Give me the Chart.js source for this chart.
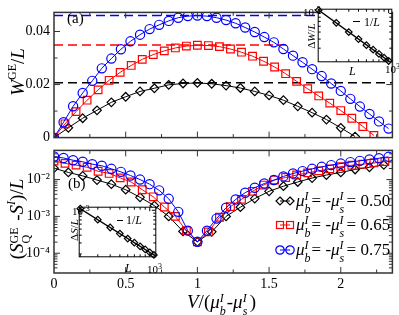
<!DOCTYPE html>
<html><head><meta charset="utf-8">
<script src="https://cdn.jsdelivr.net/npm/chart.js@4.4.0/dist/chart.umd.min.js"></script>
<style>
body{margin:0;background:#fff}
#wrap{position:relative;width:399px;height:315px;overflow:hidden;font-family:'Liberation Serif',serif;color:#000;background:#fff}
canvas{position:absolute}
.t{position:absolute;white-space:nowrap;line-height:1}
.ss{position:relative;display:inline-block;height:0}
.ss .up{position:absolute;left:0;line-height:1}
.ss .dn{position:absolute;left:0;line-height:1}
.sup{position:relative;line-height:1}
</style></head><body>
<div id="wrap">
<canvas id="cTop" width="399" height="150" style="left:0;top:0"></canvas>
<canvas id="cBot" width="399" height="177" style="left:0;top:138px"></canvas>
<canvas id="cIn1" width="84" height="63" style="left:313px;top:4px"></canvas>
<canvas id="cIn2" width="87" height="60" style="left:74px;top:202px"></canvas>

<div class="t" style="left:67px;top:11px;font-size:15px">(a)</div>
<div class="t" style="left:68px;top:176px;font-size:15px">(b)</div>

<div class="t" style="left:17px;top:72px;font-size:19px;transform:translate(-50%,-50%) rotate(-90deg)"><i>W</i><span class="sup" style="font-size:12px;top:-8px">GE</span>/<i>L</i></div>
<div class="t" style="left:16px;top:219px;font-size:19px;transform:translate(-50%,-50%) rotate(-90deg)">(<i>S</i><span class="ss" style="width:18px"><span class="up" style="font-size:12px;top:-15px">GE</span><span class="dn" style="font-size:12px;top:-3px">Q</span></span> -<i>S</i><span class="sup" style="font-size:12px;top:-8px"><i>I</i></span>)/<i>L</i></div>

<div class="t" style="left:187px;top:292px;font-size:19px"><i>V</i>/(<i>μ</i><span class="ss" style="width:7px"><span class="up" style="font-size:12px;top:-16px"><i>I</i></span><span class="dn" style="font-size:12px;top:-3px"><i>b</i></span></span>-<i>μ</i><span class="ss" style="width:7px"><span class="up" style="font-size:12px;top:-16px"><i>I</i></span><span class="dn" style="font-size:12px;top:-3px"><i>s</i></span></span>)</div>

<!-- legend symbols -->
<svg style="position:absolute;left:274px;top:194px" width="22" height="14"><line x1="6" y1="7" x2="16" y2="7" stroke="#000" stroke-width="1"/><path d="M6 3 L10 7 L6 11 L2 7 Z" fill="none" stroke="#000" stroke-width="1.2"/><path d="M16 3 L20 7 L16 11 L12 7 Z" fill="none" stroke="#000" stroke-width="1.2"/></svg>
<svg style="position:absolute;left:274px;top:218px" width="22" height="14"><line x1="6" y1="7" x2="16" y2="7" stroke="#f00" stroke-width="1"/><rect x="2.5" y="3.5" width="7" height="7" fill="none" stroke="#f00" stroke-width="1.2"/><rect x="12.5" y="3.5" width="7" height="7" fill="none" stroke="#f00" stroke-width="1.2"/></svg>
<svg style="position:absolute;left:274px;top:243px" width="22" height="14"><line x1="6" y1="7" x2="16" y2="7" stroke="#00f" stroke-width="1"/><circle cx="6" cy="7" r="4.2" fill="none" stroke="#00f" stroke-width="1.2"/><circle cx="16" cy="7" r="4.2" fill="none" stroke="#00f" stroke-width="1.2"/></svg>
<div id="leg"></div>

<!-- inset labels -->
<div class="t" style="left:303px;top:7px;font-size:11px">10<span class="sup" style="font-size:8px;top:-4px">-3</span></div>
<div class="t" style="left:311px;top:36px;font-size:11px;transform:translate(-50%,-50%) rotate(-90deg)">Δ<i>W</i>/<i>L</i></div>
<div style="position:absolute;left:353px;top:21px;width:7px;border-top:1.5px solid #000"></div>
<div class="t" style="left:364px;top:16px;font-size:12px">1/<i>L</i></div>
<div class="t" style="left:349px;top:65px;font-size:12px"><i>L</i></div>
<div class="t" style="left:385px;top:64px;font-size:11px">10<span class="sup" style="font-size:8px;top:-4px">3</span></div>

<div class="t" style="left:72px;top:206px;font-size:11px">10<span class="sup" style="font-size:8px;top:-4px">-3</span></div>
<div class="t" style="left:74px;top:230px;font-size:11px;transform:translate(-50%,-50%) rotate(-90deg)">Δ<i>S</i>/<i>L</i></div>
<div style="position:absolute;left:117px;top:220px;width:6px;border-top:1.5px solid #000"></div>
<div class="t" style="left:126px;top:214px;font-size:12px">1/<i>L</i></div>
<div class="t" style="left:125px;top:262px;font-size:12px"><i>L</i></div>
<div class="t" style="left:147px;top:264px;font-size:11px">10<span class="sup" style="font-size:8px;top:-4px">3</span></div>
</div>

<script>
// ---------- data ----------
const XMAX = 2.36;
const xBlack = [0,0.1,0.2,0.3,0.4,0.5,0.6,0.7,0.8,0.9,1.0,1.1,1.2,1.3,1.4,1.5,1.6,1.7,1.8,1.9,2.0,2.1,2.2,2.3];
const xRed = [0,0.0769,0.1538,0.2308,0.3077,0.3846,0.4615,0.5385,0.6154,0.6923,0.7692,0.8462,0.9231,1.0,1.0769,1.1538,1.2308,1.3077,1.3846,1.4615,1.5385,1.6154,1.6923,1.7692,1.8462,1.9231,2.0,2.0769,2.1538,2.2308,2.3077];
const xBlue = [0,0.0667,0.1333,0.2,0.2667,0.3333,0.4,0.4667,0.5333,0.6,0.6667,0.7333,0.8,0.8667,0.9333,1.0,1.0667,1.1333,1.2,1.2667,1.3333,1.4,1.4667,1.5333,1.6,1.6667,1.7333,1.8,1.8667,1.9333,2.0,2.0667,2.1333,2.2,2.2667,2.3333];

// panel (a): W^GE/L
const wBlack = [0,0.0037,0.0073,0.0103,0.0133,0.0154,0.0174,0.0186,0.0199,0.0204,0.0206,0.0203,0.0196,0.0187,0.0174,0.0159,0.0141,0.0118,0.0094,0.0068,0.0037,0.0004];
const wRed = [0,0.0052,0.0098,0.0141,0.0180,0.0216,0.0246,0.0272,0.0295,0.0313,0.0327,0.0338,0.0345,0.0348,0.0347,0.0343,0.0334,0.0322,0.0307,0.0288,0.0266,0.0241,0.0212,0.0184,0.0157,0.0130,0.0102,0.0073,0.0042,0.0008];
const wBlue = [0,0.0058,0.0118,0.0168,0.0214,0.0261,0.0298,0.0333,0.0363,0.0388,0.0409,0.0425,0.0440,0.0452,0.0458,0.0460,0.0458,0.0452,0.0443,0.0431,0.0415,0.0398,0.0379,0.0359,0.0334,0.0309,0.0284,0.0258,0.0232,0.0204,0.0176,0.0146,0.0117,0.0089,0.0061,0.0034];
const gsLevels = [0.0207, 0.0349, 0.0460];
const gsEnds = [2.36, 1.62, 2.36];

// panel (b): (S_Q^GE - S^I)/L
const sBlack = [0.0204,0.0156,0.0126,0.0097,0.0075,0.0053,0.0033,0.00196,0.0010,0.00039,0.000204,0.00038,0.0010,0.00178,0.00305,0.0048,0.0066,0.0086,0.0110,0.0133,0.0156,0.0188,0.0216,0.0251];
const sRed = [0.0320,0.0275,0.0247,0.0216,0.0168,0.0147,0.0111,0.0086,0.0053,0.0034,0.0018,0.0010,0.00041,0.000204,0.00038,0.00095,0.00185,0.0029,0.0048,0.0071,0.0097,0.0114,0.0133,0.0152,0.0172,0.0195,0.0225,0.0245,0.0262,0.0283,0.0308];
const sBlue = [0.0422,0.0385,0.0335,0.0305,0.0262,0.0237,0.0196,0.0162,0.0129,0.0100,0.0075,0.0051,0.0030,0.00133,0.00041,0.000204,0.00041,0.00087,0.00172,0.00288,0.0044,0.0060,0.0078,0.0097,0.0122,0.0146,0.0170,0.0196,0.0222,0.0247,0.0272,0.0298,0.0323,0.0350,0.0380,0.0415];

const topYTicks = [0, 0.02, 0.04];
const topYMinor = [0.01, 0.03];
const xTicks = [0, 0.5, 1, 1.5, 2];
const xMinor = [0.25, 0.75, 1.25, 1.75, 2.25];
const botYTicks = [1e-4, 1e-3, 1e-2];

// insets
const insetL1 = [200,300,400,500,600,700,800,900,1000];
const dWL = [1.0e-3,6.7e-4,5.0e-4,4.0e-4,3.3e-4,2.86e-4,2.5e-4,2.22e-4,2.0e-4];
const fitL1 = [198, 1075];
const fitW = [1.01e-3, 1.86e-4];
const insetL2 = [200,300,400,500,600,700,800,900,1000,1100];
const dSL = [1.06e-3,7.07e-4,5.3e-4,4.24e-4,3.53e-4,3.03e-4,2.65e-4,2.36e-4,2.12e-4,1.93e-4];
const fitL2 = [195, 1150];
const fitS = [1.087e-3, 1.84e-4];

const legendLabels = ['0.50', '0.65', '0.75'];

// ---------- helpers ----------
const pts = (xs, ys) => ys.map((y, i) => ({x: xs[i], y}));
const SUP = {'-':'\u207B','0':'\u2070','1':'\u00B9','2':'\u00B2','3':'\u00B3','4':'\u2074','5':'\u2075','6':'\u2076','7':'\u2077','8':'\u2078','9':'\u2079'};
const logLabel = v => '10' + String(Math.round(Math.log10(v))).split('').map(c => SUP[c]).join('');
const FONT = {family: "'Liberation Serif', serif", size: 14};

function logMinor(min, max) {
  const out = [];
  for (let d = Math.floor(Math.log10(min)); d <= Math.ceil(Math.log10(max)); d++) {
    for (let k = 2; k <= 9; k++) { const v = k * Math.pow(10, d); if (v > min && v < max) out.push(v); }
  }
  return out;
}
function logMajor(min, max) {
  const out = [];
  for (let d = Math.floor(Math.log10(min)); d <= Math.ceil(Math.log10(max)); d++) { const v = Math.pow(10, d); if (v >= min && v <= max) out.push(v); }
  return out;
}

const frameTicks = {
  id: 'frameTicks',
  beforeDraw(chart, args, o) {
    if (!o || !o.on || !o.bg) return;
    const {ctx, chartArea: a} = chart;
    ctx.save(); ctx.fillStyle = '#fff'; ctx.fillRect(a.left, a.top, a.right - a.left, a.bottom - a.top); ctx.restore();
  },
  afterDatasetsDraw(chart, args, o) {
    if (!o || !o.on) return;
    const {ctx, chartArea: a, scales} = chart;
    const xs = scales.x, ys = scales.y;
    ctx.save();
    ctx.strokeStyle = o.color; ctx.lineWidth = o.tickWidth;
    ctx.beginPath();
    const tx = (v, len) => { const p = xs.getPixelForValue(v); if (p < a.left + 1 || p > a.right - 1) return;
      ctx.moveTo(p, a.bottom); ctx.lineTo(p, a.bottom - len); ctx.moveTo(p, a.top); ctx.lineTo(p, a.top + len); };
    const ty = (v, len) => { const p = ys.getPixelForValue(v); if (p < a.top + 1 || p > a.bottom - 1) return;
      ctx.moveTo(a.left, p); ctx.lineTo(a.left + len, p); ctx.moveTo(a.right, p); ctx.lineTo(a.right - len, p); };
    const xMaj = o.xLog ? logMajor(xs.min, xs.max) : (o.xMajor || []);
    const xMin = o.xLog ? logMinor(xs.min, xs.max) : (o.xMinor || []);
    const yMaj = o.yLog ? logMajor(ys.min, ys.max) : (o.yMajor || []);
    const yMin = o.yLog ? logMinor(ys.min, ys.max) : (o.yMinor || []);
    xMaj.forEach(v => tx(v, o.majLen)); xMin.forEach(v => tx(v, o.minLen));
    yMaj.forEach(v => ty(v, o.majLen)); yMin.forEach(v => ty(v, o.minLen));
    ctx.stroke();
    ctx.lineWidth = o.frameWidth;
    ctx.strokeRect(a.left, a.top, a.right - a.left, a.bottom - a.top);
    ctx.restore();
  }
};
Chart.register(frameTicks);

const series = (data, color, style, r, lw) => ({
  data, showLine: true, borderColor: color, borderWidth: lw || 1, backgroundColor: 'rgba(0,0,0,0)',
  pointStyle: style, pointRadius: r, pointBorderColor: color, pointBorderWidth: 1.2,
  pointBackgroundColor: 'rgba(0,0,0,0)', tension: 0
});
const dashed = (i, color) => ({
  data: [{x: 0, y: gsLevels[i]}, {x: gsEnds[i], y: gsLevels[i]}], showLine: true,
  borderColor: color, borderWidth: 1.5, borderDash: [9, 5], pointRadius: 0
});
const base = {
  responsive: false, animation: false, devicePixelRatio: 1,
  plugins: {legend: {display: false}, tooltip: {enabled: false}}
};

// ---------- top panel ----------
new Chart(document.getElementById('cTop'), {
  type: 'scatter',
  data: {datasets: [
    series(pts(xBlue, wBlue), '#0000ff', 'circle', 4.6),
    series(pts(xRed, wRed), '#ff0000', 'rect', 5.4),
    series(pts(xBlack, wBlack), '#000000', 'rectRot', 4.3),
    dashed(0, '#000000'), dashed(1, '#ff0000'), dashed(2, '#0000ff')
  ]},
  options: {...base,
    layout: {padding: {top: 3, right: 2, bottom: 12, left: 0}},
    scales: {
      x: {type: 'linear', min: 0, max: XMAX, display: false},
      y: {type: 'linear', min: 0, max: 0.0472,
        afterFit(s) { s.width = 54; },
        afterBuildTicks(s) { s.ticks = topYTicks.map(v => ({value: v})); },
        ticks: {font: FONT, color: '#000', padding: 4, callback: v => v === 0 ? '0' : v.toFixed(2)},
        grid: {display: false, drawTicks: false}, border: {display: false}}
    },
    plugins: {...base.plugins, frameTicks: {on: true, color: '#333', tickWidth: 1, frameWidth: 1.5, majLen: 6, minLen: 3.5,
      xMajor: xTicks, xMinor: xMinor, yMajor: topYTicks, yMinor: topYMinor}}
  }
});

// ---------- bottom panel ----------
new Chart(document.getElementById('cBot'), {
  type: 'scatter',
  data: {datasets: [
    series(pts(xBlue, sBlue), '#0000ff', 'circle', 4.6),
    series(pts(xRed, sRed), '#ff0000', 'rect', 5.4),
    series(pts(xBlack, sBlack), '#000000', 'rectRot', 4.3)
  ]},
  options: {...base,
    layout: {padding: {top: 2, right: 2, bottom: 0, left: 0}},
    scales: {
      x: {type: 'linear', min: 0, max: XMAX,
        afterFit(s) { s.height = 42; },
        afterBuildTicks(s) { s.ticks = xTicks.map(v => ({value: v})); },
        ticks: {font: FONT, color: '#000', padding: 3, maxRotation: 0, autoSkip: false, callback: v => String(v)},
        grid: {display: false, drawTicks: false}, border: {display: false}},
      y: {type: 'logarithmic', min: 2.9e-5, max: 0.062,
        afterFit(s) { s.width = 54; },
        afterBuildTicks(s) { s.ticks = botYTicks.map(v => ({value: v})); },
        ticks: {font: FONT, color: '#000', padding: 4, callback: v => logLabel(v)},
        grid: {display: false, drawTicks: false}, border: {display: false}}
    },
    plugins: {...base.plugins, frameTicks: {on: true, color: '#333', tickWidth: 1, frameWidth: 1.5, majLen: 6, minLen: 3.5,
      xMajor: xTicks, xMinor: xMinor, yLog: true}}
  }
});

// ---------- insets ----------
function inset(id, L, vals, fitX, fitY, xr, yr) {
  new Chart(document.getElementById(id), {
    type: 'scatter',
    data: {datasets: [
      {...series(pts(L, vals), '#000000', 'rectRot', 3.3), showLine: false, clip: false},
      {data: pts(fitX, fitY), showLine: true, borderColor: '#000', borderWidth: 1.4, pointRadius: 0}
    ]},
    options: {...base,
      layout: {padding: 5},
      scales: {
        x: {type: 'logarithmic', min: xr[0], max: xr[1], display: false},
        y: {type: 'logarithmic', min: yr[0], max: yr[1], display: false}
      },
      plugins: {...base.plugins, frameTicks: {on: true, bg: true, color: '#000', tickWidth: 1, frameWidth: 1, majLen: 4, minLen: 2.5, xLog: true, yLog: true}}
    }
  });
}
inset('cIn1', insetL1, dWL, fitL1, fitW, [198, 1075], [1.95e-4, 1.03e-3]);
inset('cIn2', insetL2, dSL, fitL2, fitS, [195, 1150], [1.8e-4, 1.12e-3]);

// ---------- legend text ----------
const tops = [192, 216, 241];
const leg = document.getElementById('leg');
legendLabels.forEach((lab, i) => {
  const d = document.createElement('div');
  d.className = 't';
  d.style.cssText = `left:296px;top:${tops[i]}px;font-size:17px`;
  d.innerHTML = `<i>μ</i><span class="ss" style="width:7px"><span class="up" style="font-size:12px;top:-16px"><i>I</i></span><span class="dn" style="font-size:12px;top:-3px"><i>b</i></span></span>= -<i>μ</i><span class="ss" style="width:7px"><span class="up" style="font-size:12px;top:-16px"><i>I</i></span><span class="dn" style="font-size:12px;top:-3px"><i>s</i></span></span>= ${lab}`;
  leg.appendChild(d);
});
</script>
</body></html>
